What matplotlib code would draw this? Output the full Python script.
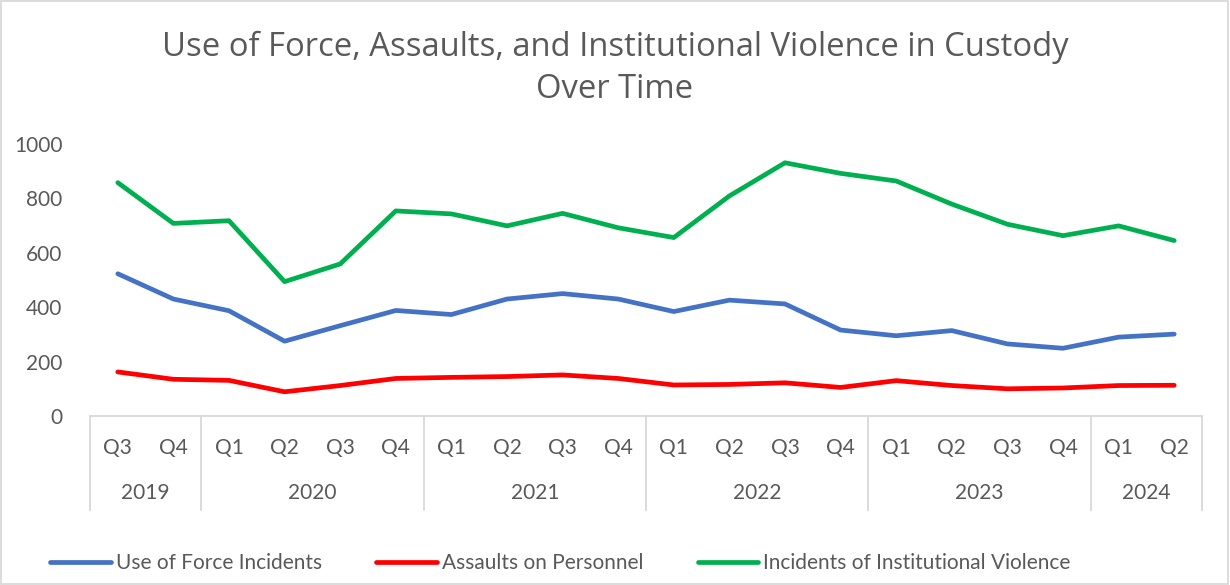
import matplotlib.pyplot as plt
import matplotlib.transforms as mtransforms
from matplotlib.patches import Rectangle

plt.rcParams["font.family"] = ["Lato", "DejaVu Sans"]

# ---------------------------------------------------------------------------
# Dati trimestrali (Q3 2019 -> Q2 2024)
# ---------------------------------------------------------------------------
QUARTERS = ["Q3", "Q4",
            "Q1", "Q2", "Q3", "Q4",
            "Q1", "Q2", "Q3", "Q4",
            "Q1", "Q2", "Q3", "Q4",
            "Q1", "Q2", "Q3", "Q4",
            "Q1", "Q2"]
YEARS = ["2019", "2020", "2021", "2022", "2023", "2024"]
YEAR_COUNTS = [2, 4, 4, 4, 4, 2]

use_of_force = [523, 430, 387, 275, 332, 388, 373, 430, 450, 430,
                384, 426, 412, 316, 295, 314, 265, 249, 290, 301]
assaults = [162, 135, 131, 89, 112, 138, 142, 145, 151, 138,
            114, 116, 122, 105, 130, 112, 100, 103, 112, 113]
violence = [858, 708, 718, 494, 559, 754, 743, 699, 745, 692,
            656, 809, 931, 892, 864, 779, 705, 663, 699, 645]

SERIES = [
    ("Use of Force Incidents", use_of_force, "#4472C4"),
    ("Assaults on Personnel", assaults, "#FF0000"),
    ("Incidents of Institutional Violence", violence, "#00B050"),
]

TXT = "#595959"
GRID = "#D9D9D9"

fig = plt.figure(figsize=(12.3, 5.85), dpi=100)
ax = fig.add_axes([90 / 1230, 1 - 416 / 585, (1202 - 90) / 1230, (416 - 144) / 585])

x = list(range(len(QUARTERS)))
for label, vals, col in SERIES:
    ax.plot(x, vals, color=col, linewidth=3.4, solid_capstyle="round",
            solid_joinstyle="round", label=label)

ax.set_xlim(-0.5, len(QUARTERS) - 0.5)
ax.set_ylim(0, 1000)
ax.set_yticks(range(0, 1001, 200))
ax.tick_params(axis="y", length=0, labelsize=15, labelcolor=TXT, pad=19.8)
ax.set_xticks([])
for s in ["top", "right", "left"]:
    ax.spines[s].set_visible(False)
ax.spines["bottom"].set_color(GRID)
ax.spines["bottom"].set_linewidth(1.3)

# asse categorie a due livelli (trimestre / anno)
trans = mtransforms.blended_transform_factory(ax.transData, fig.transFigure)
y_q = 1 - 448 / 585
y_y = 1 - 493 / 585
y_bot = 1 - 510 / 585
y_top = 1 - 416 / 585
for i, q in enumerate(QUARTERS):
    ax.text(i, y_q, q, transform=trans, ha="center", va="center",
            fontsize=15, color=TXT)

start = 0
edges = [-0.5]
for yr, n in zip(YEARS, YEAR_COUNTS):
    mid = start + (n - 1) / 2
    ax.text(mid, y_y, yr, transform=trans, ha="center", va="center",
            fontsize=15, color=TXT)
    start += n
    edges.append(start - 0.5)
for e in edges:
    ax.plot([e, e], [y_top, y_bot], transform=trans, color=GRID,
            linewidth=1.3, clip_on=False)

title_font = ["Open Sans", "DejaVu Sans"]
fig.text(0.5, 1 - 47 / 585, "Use of Force, Assaults, and Institutional Violence in Custody",
         ha="center", va="center", fontsize=23.6, color=TXT, family=title_font)
fig.text(0.5, 1 - 90 / 585, "Over Time", ha="center", va="center",
         fontsize=23.6, color=TXT, family=title_font)

fig.legend(loc="center left", bbox_to_anchor=(40 / 1230, 1 - 563 / 585),
           ncol=3, frameon=False, fontsize=15, handlelength=2.9,
           handletextpad=0.25, columnspacing=2.6, borderpad=0,
           labelcolor=TXT)

# bordo area grafico
fig.patches.append(Rectangle((0.001, 0.002), 0.997, 0.996, transform=fig.transFigure,
                             fill=False, edgecolor=GRID, linewidth=1.3))

fig.savefig("out.png", dpi=100)
